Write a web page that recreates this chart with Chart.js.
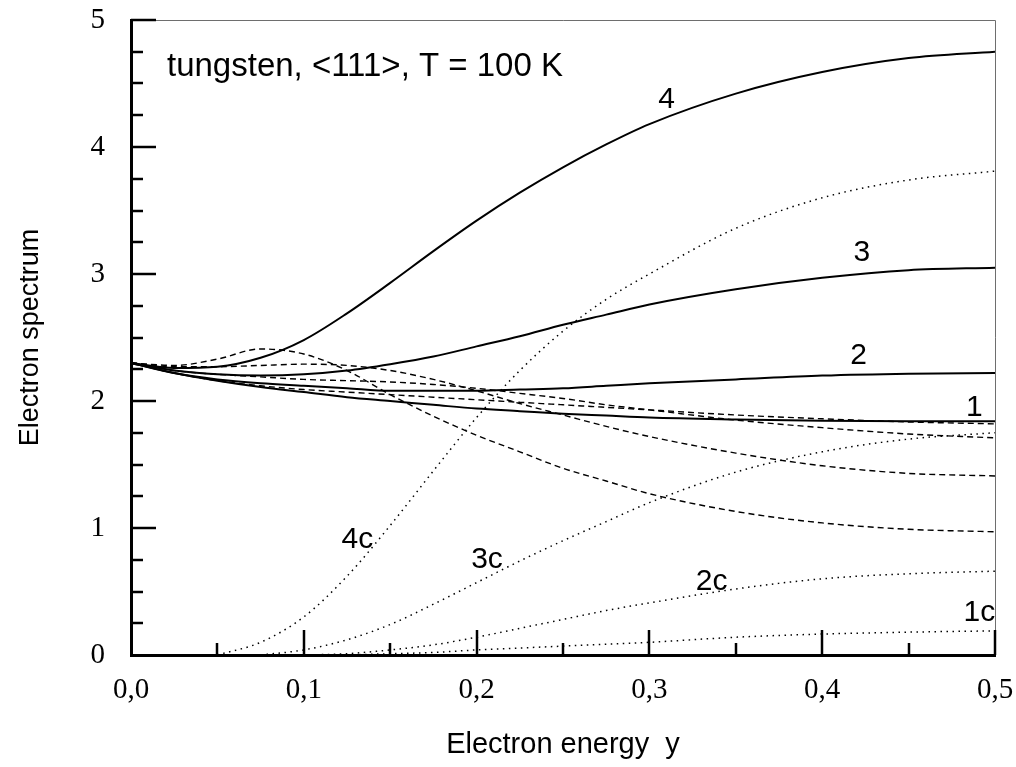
<!DOCTYPE html>
<html>
<head>
<meta charset="utf-8">
<script src="https://cdn.jsdelivr.net/npm/chart.js@4.4.1/dist/chart.umd.min.js"></script>
<style>
    html, body { margin: 0; padding: 0; background: #fff; }
</style>
</head>
<body>
<canvas id="spectrumChart" width="1016" height="767"></canvas>
<script>
// electron energy y (shared x grid)
const energy = [0, 0.025, 0.05, 0.075, 0.1, 0.125, 0.15, 0.175, 0.2, 0.225, 0.25, 0.275, 0.3, 0.35, 0.4, 0.45, 0.5];

// solid curves 1..4
const total1 = [2.30, 2.22, 2.16, 2.11, 2.07, 2.03, 2.00, 1.97, 1.94, 1.92, 1.90, 1.885, 1.87, 1.855, 1.845, 1.84, 1.84];
const total2 = [2.30, 2.22, 2.17, 2.14, 2.12, 2.10, 2.08, 2.08, 2.08, 2.09, 2.10, 2.12, 2.14, 2.17, 2.20, 2.215, 2.22];
const total3 = [2.30, 2.24, 2.21, 2.20, 2.21, 2.24, 2.29, 2.35, 2.43, 2.51, 2.60, 2.68, 2.76, 2.88, 2.97, 3.03, 3.05];
const total4 = [2.30, 2.26, 2.27, 2.34, 2.48, 2.69, 2.93, 3.18, 3.42, 3.64, 3.84, 4.02, 4.18, 4.42, 4.59, 4.70, 4.75];

// dashed curves
const dash1 = [2.30, 2.22, 2.16, 2.12, 2.09, 2.07, 2.05, 2.03, 2.01, 1.99, 1.97, 1.95, 1.93, 1.89, 1.86, 1.835, 1.82];
const dash2 = [2.30, 2.24, 2.21, 2.19, 2.17, 2.16, 2.15, 2.13, 2.10, 2.06, 2.02, 1.97, 1.93, 1.85, 1.79, 1.74, 1.71];
const dash3 = [2.30, 2.27, 2.27, 2.28, 2.29, 2.28, 2.24, 2.17, 2.08, 1.98, 1.89, 1.80, 1.72, 1.59, 1.49, 1.43, 1.41];
const dash4 = [2.30, 2.28, 2.33, 2.41, 2.37, 2.24, 2.05, 1.88, 1.73, 1.60, 1.47, 1.37, 1.27, 1.13, 1.04, 0.99, 0.97];

// dotted "c" curves (null = not drawn)
const coh1 = [null, null, null, null, null, 0, 0.01, 0.02, 0.04, 0.055, 0.07, 0.085, 0.10, 0.14, 0.165, 0.18, 0.19];
const coh2 = [null, null, null, null, 0, 0.01, 0.04, 0.08, 0.14, 0.21, 0.28, 0.35, 0.41, 0.52, 0.60, 0.64, 0.66];
const coh3 = [null, null, null, 0, 0.04, 0.12, 0.24, 0.40, 0.57, 0.74, 0.90, 1.05, 1.20, 1.44, 1.60, 1.70, 1.75];
const coh4 = [null, null, 0, 0.10, 0.30, 0.62, 1.02, 1.45, 1.87, 2.24, 2.55, 2.80, 3.00, 3.36, 3.60, 3.74, 3.81];

const xTickValues = [0, 0.1, 0.2, 0.3, 0.4, 0.5];
const yTickValues = [0, 1, 2, 3, 4, 5];

// curve labels, in data coordinates
const curveLabels = [
    {text: '4', x: 0.310, y: 4.37},
    {text: '3', x: 0.423, y: 3.17},
    {text: '2', x: 0.421, y: 2.36},
    {text: '1', x: 0.488, y: 1.95},
    {text: '4c', x: 0.131, y: 0.91},
    {text: '3c', x: 0.206, y: 0.75},
    {text: '2c', x: 0.336, y: 0.58},
    {text: '1c', x: 0.491, y: 0.33}
];

const sansFont = '"Liberation Sans", Arial, sans-serif';
const serifFont = '"Liberation Serif", "Times New Roman", serif';

const toPoints = (ys) => energy.map((x, i) => ({x: x, y: ys[i]})).filter(p => p.y !== null);

const makeSet = (ys, kind) => {
    const set = {
        data: toPoints(ys),
        showLine: true,
        borderColor: '#000',
        pointRadius: 0,
        cubicInterpolationMode: 'monotone',
        fill: false
    };
    if (kind === 'solid') {
        set.borderWidth = 2;
    } else if (kind === 'dash') {
        set.borderWidth = 1.4;
        set.borderDash = [6, 4];
    } else {
        set.borderWidth = 1.5;
        set.borderDash = [1.5, 4.5];
    }
    return set;
};

const inkPlugin = {
    id: 'inkPlugin',
    afterDraw(chart) {
        const {ctx, chartArea: a, scales: {x, y}} = chart;
        ctx.save();

        // thin frame on top and right
        ctx.strokeStyle = '#6e6e6e';
        ctx.lineWidth = 1;
        ctx.beginPath();
        ctx.moveTo(a.left, a.top + 0.5);
        ctx.lineTo(a.right + 0.5, a.top + 0.5);
        ctx.lineTo(a.right + 0.5, a.bottom);
        ctx.stroke();

        // inward ticks
        ctx.strokeStyle = '#000';
        ctx.lineWidth = 2.5;
        for (let k = 1; k <= 10; k++) {
            const px = Math.round(x.getPixelForValue(k * 0.05));
            const len = k % 2 === 0 ? 25 : 12;
            ctx.beginPath();
            ctx.moveTo(px, a.bottom);
            ctx.lineTo(px, a.bottom - len);
            ctx.stroke();
        }
        for (let k = 1; k <= 20; k++) {
            const py = Math.round(y.getPixelForValue(k * 0.25));
            const len = k % 4 === 0 ? 25 : 12;
            ctx.beginPath();
            ctx.moveTo(a.left, py);
            ctx.lineTo(a.left + len, py);
            ctx.stroke();
        }

        // texts
        ctx.fillStyle = '#000';
        ctx.font = '33px ' + sansFont;
        ctx.textAlign = 'left';
        ctx.textBaseline = 'middle';
        ctx.fillText('tungsten, <111>, T = 100 K', a.left + 36, a.top + 47);

        ctx.font = '30px ' + sansFont;
        ctx.textAlign = 'center';
        curveLabels.forEach(l => {
            ctx.fillText(l.text, x.getPixelForValue(l.x), y.getPixelForValue(l.y));
        });
        ctx.restore();
    }
};

const ctx = document.getElementById('spectrumChart').getContext('2d');

const spectrumChart = new Chart(ctx, {
    type: 'scatter',
    data: {
        datasets: [
            makeSet(total1, 'solid'), makeSet(total2, 'solid'), makeSet(total3, 'solid'), makeSet(total4, 'solid'),
            makeSet(dash1, 'dash'), makeSet(dash2, 'dash'), makeSet(dash3, 'dash'), makeSet(dash4, 'dash'),
            makeSet(coh1, 'dot'), makeSet(coh2, 'dot'), makeSet(coh3, 'dot'), makeSet(coh4, 'dot')
        ]
    },
    options: {
        responsive: false,
        animation: false,
        layout: {padding: {top: 20, right: 21, left: 0, bottom: 0}},
        scales: {
            x: {
                type: 'linear',
                min: 0,
                max: 0.5,
                afterBuildTicks: (s) => { s.ticks = xTickValues.map(v => ({value: v})); },
                afterFit: (s) => { s.height = 112; s.paddingLeft = 0; s.paddingRight = 0; },
                grid: {display: false},
                border: {display: true, color: '#000', width: 3},
                ticks: {
                    color: '#000',
                    padding: 10,
                    maxRotation: 0,
                    font: {family: serifFont, size: 29},
                    callback: (v) => v.toFixed(1).replace('.', ',')
                },
                title: {
                    display: true,
                    text: 'Electron energy  y',
                    color: '#000',
                    padding: 5,
                    font: {family: sansFont, size: 29}
                }
            },
            y: {
                type: 'linear',
                min: 0,
                max: 5,
                afterBuildTicks: (s) => { s.ticks = yTickValues.map(v => ({value: v})); },
                afterFit: (s) => { s.width = 131; s.paddingTop = 0; s.paddingBottom = 0; },
                grid: {display: false},
                border: {display: true, color: '#000', width: 3},
                ticks: {
                    color: '#000',
                    padding: 18,
                    font: {family: serifFont, size: 29},
                    callback: (v) => String(v)
                },
                title: {
                    display: true,
                    text: 'Electron spectrum',
                    color: '#000',
                    padding: 14,
                    font: {family: sansFont, size: 27}
                }
            }
        },
        plugins: {
            legend: {display: false},
            tooltip: {enabled: false}
        }
    },
    plugins: [inkPlugin]
});
</script>
</body>
</html>
